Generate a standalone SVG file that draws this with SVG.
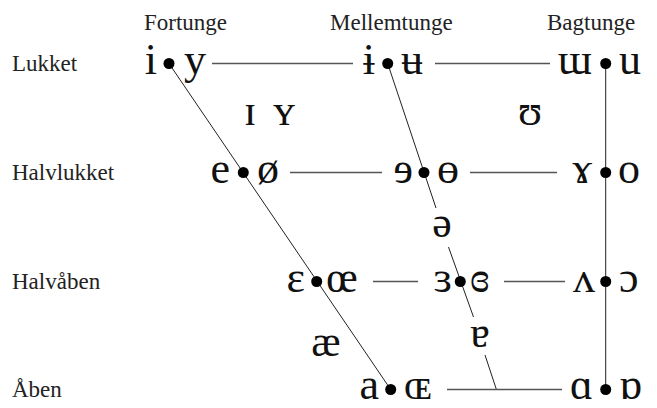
<svg xmlns="http://www.w3.org/2000/svg" width="657" height="408" viewBox="0 0 657 408">
<style>
.lbl{font-family:"Liberation Serif","Times New Roman",serif;font-size:23px;fill:#222}
.sym{font-family:"Liberation Serif","DejaVu Serif",serif;font-size:44px;fill:#111}
.l{text-anchor:end}
.r{text-anchor:start}
.c{text-anchor:middle}
.h{stroke:#555;stroke-width:1.3;fill:none}
.s{stroke:#222;stroke-width:1;fill:none}
.dot{fill:#000}
</style>
<rect width="657" height="408" fill="#fff"/>
<g id="labels">
<text class="lbl" x="144" y="30">Fortunge</text>
<text class="lbl" x="330" y="30">Mellemtunge</text>
<text class="lbl" x="547" y="30">Bagtunge</text>
<text class="lbl" x="12" y="71">Lukket</text>
<text class="lbl" x="12" y="180">Halvlukket</text>
<text class="lbl" x="12" y="289">Halvåben</text>
<text class="lbl" x="12" y="397">Åben</text>
</g>
<g id="connectors">
<line class="s" x1="169" y1="63.5" x2="390.7" y2="389.5"/>
<line class="s" x1="387.7" y1="63.5" x2="436" y2="208"/>
<line class="s" x1="448.5" y1="247" x2="473.5" y2="317"/>
<line class="s" x1="485" y1="355" x2="496.4" y2="389.5"/>
<line class="s" x1="605.7" y1="63.5" x2="605.7" y2="389.5"/>
<line class="h" x1="212" y1="63.5" x2="353" y2="63.5"/>
<line class="h" x1="435" y1="63.5" x2="550" y2="63.5"/>
<line class="h" x1="290" y1="172.5" x2="382" y2="172.5"/>
<line class="h" x1="470" y1="172.5" x2="557" y2="172.5"/>
<line class="h" x1="373" y1="281.5" x2="418" y2="281.5"/>
<line class="h" x1="504" y1="281.5" x2="565" y2="281.5"/>
<line class="h" x1="447" y1="389.5" x2="562" y2="389.5"/>
</g>
<g id="row-lukket">
<circle class="dot" cx="169" cy="63.5" r="5.5"/>
<text class="sym l" x="157" y="73.5">i</text>
<text class="sym r" x="184" y="73.5">y</text>
<circle class="dot" cx="387.7" cy="63.5" r="5.5"/>
<text class="sym l" x="375" y="73.5">ɨ</text>
<text class="sym r" x="401" y="73.5">ʉ</text>
<circle class="dot" cx="605.7" cy="63.5" r="5.5"/>
<text class="sym l" x="592" y="73.5">ɯ</text>
<text class="sym r" x="619" y="73.5">u</text>
</g>
<g id="row-near-close">
<text class="sym c" x="250" y="125">ɪ</text>
<text class="sym c" x="284" y="125">ʏ</text>
<text class="sym c" x="530" y="125">ʊ</text>
</g>
<g id="row-halvlukket">
<circle class="dot" cx="243.3" cy="172.5" r="5.5"/>
<text class="sym l" x="230" y="182.5">e</text>
<text class="sym r" x="257" y="182.5">ø</text>
<circle class="dot" cx="424" cy="172.5" r="5.5"/>
<text class="sym l" x="413" y="182.5">ɘ</text>
<text class="sym r" x="437" y="182.5">ɵ</text>
<circle class="dot" cx="605.7" cy="172.5" r="5.5"/>
<text class="sym l" x="592" y="182.5">ɤ</text>
<text class="sym r" x="618" y="182.5">o</text>
</g>
<g id="schwa">
<text class="sym c" x="442" y="237">ə</text>
</g>
<g id="row-halvaaben">
<circle class="dot" cx="316.7" cy="281.5" r="5.5"/>
<text class="sym l" x="305" y="291.5">ɛ</text>
<text class="sym r" x="326" y="291.5">œ</text>
<circle class="dot" cx="460.3" cy="281.5" r="5.5"/>
<text class="sym l" x="452" y="291.5">ɜ</text>
<text class="sym r" x="470" y="291.5">ɞ</text>
<circle class="dot" cx="605.7" cy="281.5" r="5.5"/>
<text class="sym l" x="595" y="291.5">ʌ</text>
<text class="sym r" x="619" y="291.5">ɔ</text>
</g>
<g id="near-open">
<text class="sym c" x="326" y="356">æ</text>
<text class="sym c" x="480" y="347">ɐ</text>
</g>
<g id="row-aaben">
<circle class="dot" cx="390.7" cy="389.5" r="5.5"/>
<text class="sym l" x="379" y="398.5">a</text>
<text class="sym r" x="404" y="398.5">ɶ</text>
<circle class="dot" cx="605.7" cy="389.5" r="5.5"/>
<text class="sym l" x="593" y="398.5">ɑ</text>
<text class="sym r" x="619" y="398.5">ɒ</text>
</g>
</svg>
